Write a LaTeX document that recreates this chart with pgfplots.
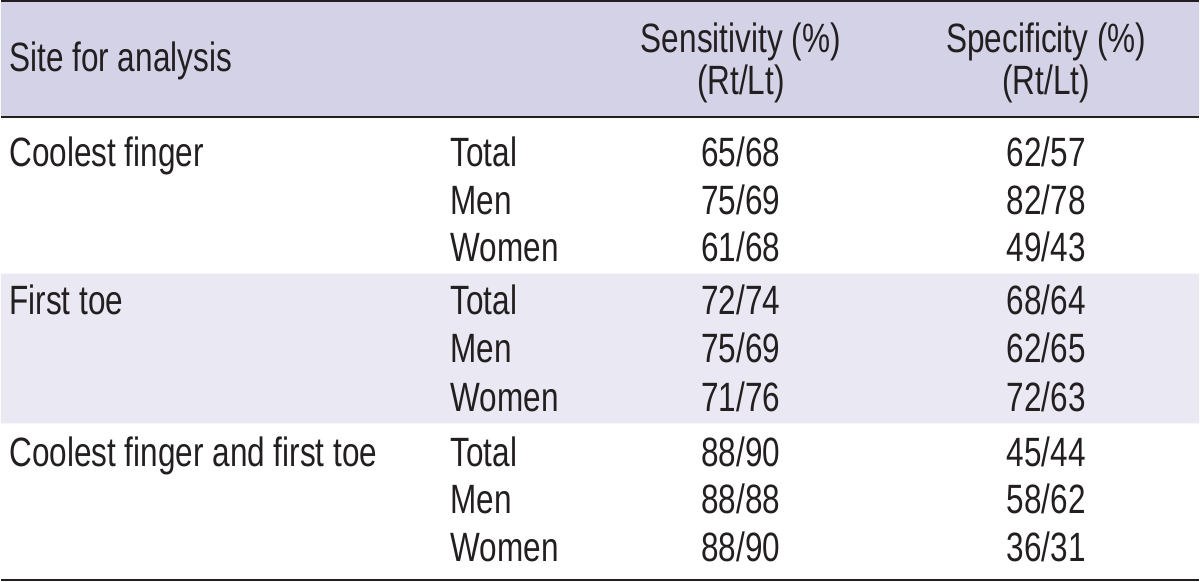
\documentclass[border=0pt]{standalone}
\usepackage{fontspec}
\setmainfont[FakeStretch=0.77]{Liberation Sans}
\usepackage{pgfplots}
\pgfplotsset{compat=1.18}
\definecolor{hdr}{HTML}{D4D2E7}
\definecolor{band}{HTML}{E9E8F3}
\definecolor{ink}{HTML}{231F20}
\begin{document}
\begin{tikzpicture}
\begin{axis}[width=600pt,height=291pt,scale only axis,
  xmin=0,xmax=1200,ymin=0,ymax=582,y dir=reverse,
  axis lines=none, clip=false,
  every node near coord/.append style={font=\fontsize{20.5}{24}\selectfont, text=ink, inner sep=0pt},
]
% background bands
\addplot[fill=hdr,draw=none] coordinates {(0,1) (1200,1) (1200,117) (0,117) (0,1)};
\addplot[fill=band,draw=none] coordinates {(0,274) (1200,274) (1200,424) (0,424) (0,274)};
% rules
\addplot[ink,line width=1pt] coordinates {(0,1) (1200,1)};
\addplot[ink,line width=1pt] coordinates {(0,117) (1200,117)};
\addplot[ink,line width=1pt] coordinates {(0,581) (1200,581)};
% left column
\addplot[only marks, mark=none, nodes near coords, point meta=explicit symbolic,
  every node near coord/.append style={anchor=base west}]
  table[col sep=comma, meta=label] {
x,y,label
8,72,Site for analysis
8,167,Coolest finger
8,315,First toe
8,467,Coolest finger and first toe
};
% subgroup column
\addplot[only marks, mark=none, nodes near coords, point meta=explicit symbolic,
  every node near coord/.append style={anchor=base west}]
  table[col sep=comma, meta=label] {
x,y,label
450,167,Total
450,215,Men
450,262,Women
450,315,Total
450,363,Men
450,412,Women
450,467,Total
450,514,Men
450,562,Women
};
% sensitivity
\addplot[only marks, mark=none, nodes near coords, point meta=explicit symbolic,
  every node near coord/.append style={anchor=base}]
  table[col sep=comma, meta=label] {
x,y,label
741,53,Sensitivity (\%)
741,95,(Rt/Lt)
741,167,65/68
741,215,75/69
741,262,61/68
741,315,72/74
741,363,75/69
741,412,71/76
741,467,88/90
741,514,88/88
741,562,88/90
};
% specificity
\addplot[only marks, mark=none, nodes near coords, point meta=explicit symbolic,
  every node near coord/.append style={anchor=base}]
  table[col sep=comma, meta=label] {
x,y,label
1047,53,Specificity (\%)
1047,95,(Rt/Lt)
1047,167,62/57
1047,215,82/78
1047,262,49/43
1047,315,68/64
1047,363,62/65
1047,412,72/63
1047,467,45/44
1047,514,58/62
1047,562,36/31
};
\end{axis}
\end{tikzpicture}
\end{document}
